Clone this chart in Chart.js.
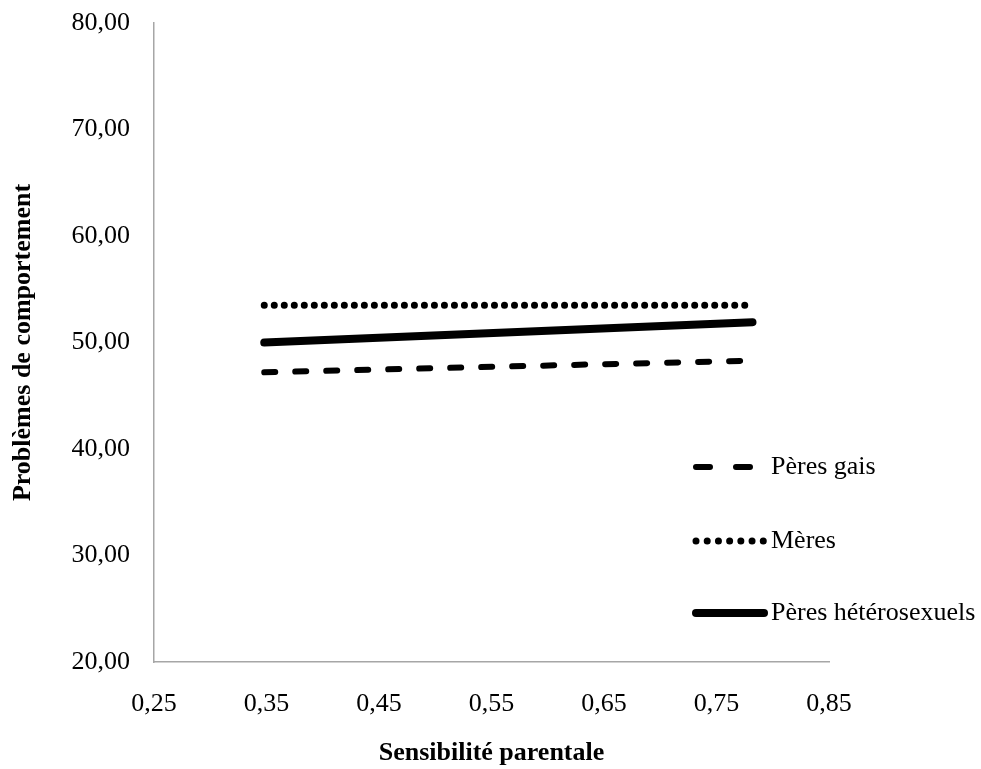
<!DOCTYPE html>
<html>
<head>
<meta charset="utf-8">
<script src="https://cdn.jsdelivr.net/npm/chart.js@4/dist/chart.umd.min.js"></script>
<style>
  html, body { margin: 0; padding: 0; background: #fff; }
  #wrap { width: 981px; height: 769px; }
</style>
</head>
<body>
<div id="wrap"><canvas id="chart" width="981" height="769"></canvas></div>
<script>
// ---- Data ----
var SENSIBILITE   = [0.348, 0.782];
var PERES_GAIS    = [47.2, 48.3];
var MERES         = [53.5, 53.5];
var PERES_HETERO  = [50.0, 51.9];
var SERIES_LABELS = ["Pères gais", "Mères", "Pères hétérosexuels"];

var FONT_FAMILY = "'Liberation Serif', 'Times New Roman', serif";

function points(ys) {
  return ys.map(function(y, i) { return { x: SENSIBILITE[i], y: y }; });
}

function frNumber(v) {
  return Number(v).toFixed(2).replace(".", ",");
}

// ---- Legend drawn inside the plot, Excel style ----
var insideLegend = {
  id: "insideLegend",
  afterDraw: function(chart) {
    var ctx = chart.ctx;
    var rows = [467, 541, 613];
    ctx.save();
    ctx.font = "26px " + FONT_FAMILY;
    ctx.textBaseline = "middle";
    ctx.fillStyle = "#000";
    chart.data.datasets.forEach(function(ds, i) {
      var y = rows[i];
      ctx.strokeStyle = ds.borderColor;
      ctx.lineWidth = ds.borderWidth;
      ctx.lineCap = "round";
      ctx.setLineDash(ds.legendDash || ds.borderDash || []);
      ctx.beginPath();
      ctx.moveTo(696, y);
      ctx.lineTo(ds.legendEnd, y);
      ctx.stroke();
      ctx.setLineDash([]);
      ctx.fillText(ds.label, 771, y);
    });
    ctx.restore();
  },
};

new Chart(document.getElementById("chart"), {
  type: "scatter",
  data: {
    datasets: [
      {
        label:           SERIES_LABELS[0],
        data:            points(PERES_GAIS),
        showLine:        true,
        borderColor:     "#000",
        borderWidth:     6,
        borderDash:      [11, 20],
        legendDash:      [14, 26],
        legendEnd:       756,
        borderCapStyle:  "round",
        pointRadius:     0,
      },
      {
        label:           SERIES_LABELS[1],
        data:            points(MERES),
        showLine:        true,
        borderColor:     "#000",
        borderWidth:     7,
        borderDash:      [0.01, 10],
        legendDash:      [0.01, 11.2],
        legendEnd:       764,
        borderCapStyle:  "round",
        pointRadius:     0,
      },
      {
        label:           SERIES_LABELS[2],
        data:            points(PERES_HETERO),
        showLine:        true,
        borderColor:     "#000",
        borderWidth:     8,
        legendEnd:       764,
        borderCapStyle:  "round",
        pointRadius:     0,
      },
    ],
  },
  options: {
    responsive:  false,
    animation:   false,
    layout: { padding: { top: 23, right: 152, left: 0, bottom: 0 } },
    plugins: {
      legend:  { display: false },
      tooltip: { enabled: false },
    },
    scales: {
      x: {
        type: "linear",
        min: 0.25,
        max: 0.85,
        grid:   { display: false, drawTicks: false },
        border: { display: true, color: "#a6a6a6", width: 1.5 },
        ticks: {
          stepSize: 0.1,
          padding:  27,
          color:    "#000",
          font:     { family: FONT_FAMILY, size: 26 },
          callback: function(v) { return frNumber(v); },
        },
        title: {
          display: true,
          text:    "Sensibilité parentale",
          color:   "#000",
          font:    { family: FONT_FAMILY, size: 26, weight: "bold" },
          padding: { top: 0, bottom: 0 },
        },
        afterFit: function(scale) { scale.height = 107; },
      },
      y: {
        min: 20,
        max: 80,
        grid:   { display: false, drawTicks: false },
        border: { display: true, color: "#a6a6a6", width: 1.5 },
        ticks: {
          stepSize: 10,
          padding:  24,
          color:    "#000",
          font:     { family: FONT_FAMILY, size: 26 },
          callback: function(v) { return frNumber(v); },
        },
        title: {
          display: true,
          text:    "Problèmes de comportement",
          color:   "#000",
          font:    { family: FONT_FAMILY, size: 26, weight: "bold" },
          padding: { top: 8, bottom: 0 },
        },
        afterFit: function(scale) {
          scale.width = 154;
          scale.paddingTop = 0;
          scale.paddingBottom = 0;
        },
      },
    },
  },
  plugins: [insideLegend],
});
</script>
</body>
</html>
